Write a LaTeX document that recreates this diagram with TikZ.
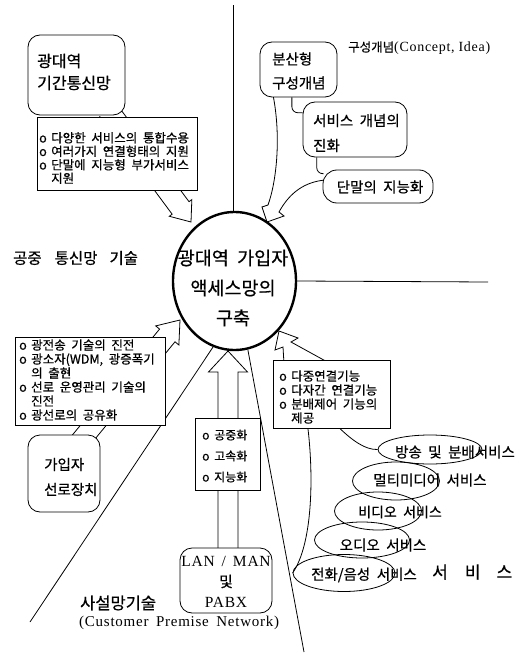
\documentclass[tikz,border=0pt]{standalone}
\usepackage{fontspec}
\setmainfont{Noto Sans CJK KR}[FakeBold=0.6]
\newfontfamily\serifw[LetterSpace=5]{Liberation Serif}
\usetikzlibrary{calc,shapes.geometric}
\newcommand\fs[2]{\fontsize{#1}{#2}\selectfont\lineskiplimit=-100pt\lineskip=0pt\spaceskip=0.45em\relax}
\newcommand\bulo{\makebox[12pt][l]{o}}
\newcommand\bulind{\hspace*{12pt}}
\newcommand\blockarr[5]{%
  \path ($(#2)!#5!(#1)$) coordinate (ba-h);
  \draw[arrline] ($(#1)!#3!90:(#2)$) -- ($(ba-h)!#3!-90:(#1)$) -- ($(ba-h)!#4!-90:(#1)$) -- (#2) -- ($(ba-h)!#4!90:(#1)$) -- ($(ba-h)!#3!90:(#1)$) -- ($(#1)!#3!-90:(#2)$);}
\begin{document}
\begin{tikzpicture}[x=1pt,y=-1pt,
  ln/.style={line width=0.8pt},
  arrline/.style={line width=0.8pt, line join=miter},
  rbox/.style={draw, line width=0.8pt, rounded corners=12pt, fill=white, inner sep=0pt},
  tbox/.style={draw, line width=0.8pt, fill=white, inner sep=0pt},
  svc/.style={draw, ellipse, line width=0.8pt, inner sep=0pt},
  circ/.style={draw, ellipse, line width=2.4pt, inner sep=0pt, fill=white},
  txt/.style={inner sep=0pt, align=left},
]
\useasboundingbox (0,0) rectangle (530,655);

% free ends of lines
\coordinate (vt) at (233,5);
\coordinate (hr) at (488,282);
\coordinate (dl) at (30,622);
\coordinate (dr) at (304,652);

% block arrows (drawn first; boxes cover their shafts)
\coordinate (aS) at (108,110); \coordinate (aT) at (191,222);
\blockarr{aS}{aT}{10.5pt}{14pt}{17.5pt}
\coordinate (cS) at (73,450); \coordinate (cT) at (180,320);
\blockarr{cS}{cT}{10pt}{15pt}{20pt}
\coordinate (dS) at (228,560); \coordinate (dT) at (228,351);
\blockarr{dS}{dT}{10pt}{19.5pt}{21pt}
\coordinate (eT) at (279,331);
\draw[arrline] (284,364) -- (283,347) -- (275,350) -- (eT) -- (298,338) -- (291,342) -- (331,364);
\coordinate (bT) at (267,222);
\draw[arrline] (273,95) .. controls (281,135) and (277,180) .. (268,205) -- (262,207) -- (bT) -- (284,216) -- (279,212) .. controls (290,192) and (305,182) .. (325,180);

% circle
\node[circ, minimum width=123pt, minimum height=138pt] (c) at (234.5,281) {};
\draw[ln] (vt |- c.north) -- (vt);
\draw[ln] (c.east) -- (hr);
\draw[ln] (c.252) -- (dl);
\draw[ln] (c.281) -- (dr);

% boxes
\node[rbox, minimum width=97pt, minimum height=80pt] (tlb) at (76.5,75) {};
\node[tbox, minimum width=160pt, minimum height=73pt] (tltb) at (117,153.5) {};
\node[rbox, minimum width=77pt, minimum height=55pt] (bs) at (298.5,69.5) {};
\node[rbox, minimum width=104pt, minimum height=55pt] (sv) at (355,129.5) {};
\node[rbox, minimum width=110pt, minimum height=33pt, rounded corners=14pt] (dm) at (378,186.5) {};
\node[tbox, minimum width=150pt, minimum height=88pt] (llt) at (90,381) {};
\node[rbox, minimum width=72pt, minimum height=77pt] (gj) at (64,473.5) {};
\node[tbox, minimum width=65pt, minimum height=72pt] (mb) at (227.5,454) {};
\node[rbox, minimum width=92pt, minimum height=65pt] (lan) at (226,580.5) {};
\node[tbox, minimum width=117pt, minimum height=68pt] (rt) at (331.5,394) {};

% small connectors between concept boxes
\draw[ln, rounded corners=6pt] ($(bs.south west)!0.415!(bs.south east)$) |- ($(sv.north west)!0.2!(sv.south west)$);
\draw[ln, rounded corners=6pt] ($(sv.south west)!0.135!(sv.south east)$) |- ($(dm.north west)!0.12!(dm.south west)+(1,0)$);

% service ellipses
\node[svc, minimum width=104pt, minimum height=29pt] (e1) at (430,449.5) {};
\node[svc, minimum width=87pt, minimum height=38pt] (e2) at (396,481) {};
\node[svc, minimum width=87pt, minimum height=38pt] (e3) at (378,511) {};
\node[svc, minimum width=95pt, minimum height=36pt] (e4) at (362,540) {};
\node[svc, minimum width=102pt, minimum height=37pt] (e5) at (344,573) {};
\coordinate (q1) at ($(rt.south west)!0.57!(rt.south east)$);
\coordinate (q2) at ($(rt.south west)!0.30!(rt.south east)$);
\draw[ln] (q1) .. controls (352,440) and (365,450) .. (e1.west);
\draw[ln] (q2) .. controls (314,480) and (312,545) .. (e5.west);

% texts
\node[txt, font=\fs{18.5}{30}, align=center] (ct) at (233,288) {광대역 가입자\\액세스망의\\구축};
\node[txt, anchor=west, font=\fs{16}{22}] (tlbt) at (37,72) {광대역\\기간통신망};
\node[txt, anchor=west, font=\fs{12.5}{13.5}] (tltt) at (39,158) {\bulo 다양한 서비스의 통합수용\\\bulo 여러가지 연결형태의 지원\\\bulo 단말에 지능형 부가서비스\\\bulind 지원};
\node[txt, anchor=west, font=\fs{14.5}{24}] (bst) at (272,71) {분산형\\구성개념};
\node[txt, anchor=west, font=\fs{14.5}{25}] (svt) at (313,133) {서비스 개념의\\진화};
\node[txt, font=\fs{14.5}{17}] (dmt) at (380,187) {단말의 지능화};
\node[txt, anchor=west] (cpt) at (348,48) {{\fs{12.5}{14}구성개념}{\serifw\fontsize{14}{17}\selectfont(Concept,\hspace{4pt}Idea)}};
\node[txt, anchor=west, font=\fs{15.5}{18}] (pub) at (13,258) {공중\hspace{13pt}통신망\hspace{12pt}기술};
\node[txt, anchor=west, font=\fs{12.5}{14}] (lltt) at (19,380) {\bulo 광전송 기술의 진전\\\bulo 광소자(WDM, 광증폭기\\\bulind 의 출현\\\bulo 선로 운영관리 기술의\\\bulind 진전\\\bulo 광선로의 공유화};
\node[txt, anchor=west, font=\fs{14.5}{25}] (gjt) at (44,477) {가입자\\선로장치};
\node[txt, anchor=west, font=\fs{12}{21}] (mbt) at (202,456) {\bulo 공중화\\\bulo 고속화\\\bulo 지능화};
\node[txt, align=center, font=\fs{15.5}{20.5}] (lant) at (226,582) {{\serifw LAN / MAN}\\{\fs{15}{20.5}및}\\{\serifw PABX}};
\node[txt, anchor=west, font=\fs{12.5}{14}] (rtt) at (279,397) {\bulo 다중연결기능\\\bulo 다자간 연결기능\\\bulo 분배제어 기능의\\\bulind 제공};
\node[txt, anchor=west, font=\fs{16.5}{19}] (pvt) at (80,603) {사설망기술};
\node[txt, anchor=west] (cpn) at (79,623) {\serifw\fontsize{15}{17}\selectfont(Customer\hspace{3pt} Premise\hspace{3pt} Network)};
\node[txt, anchor=west, font=\fs{17}{19}] (svl) at (432,572) {서\hspace{17pt}비\hspace{16pt}스};
\node[txt, font=\fs{14.5}{17}] (t1) at (455,452) {방송 및 분배서비스};
\node[txt, font=\fs{14.5}{17}] (t2) at (430,480) {멀티미디어 서비스};
\node[txt, font=\fs{14}{17}] (t3) at (400,512) {비디오 서비스};
\node[txt, font=\fs{14.5}{17}] (t4) at (383,545) {오디오 서비스};
\node[txt, font=\fs{14.5}{17}] (t5) at (364,575) {전화/음성 서비스};
\end{tikzpicture}
\end{document}
